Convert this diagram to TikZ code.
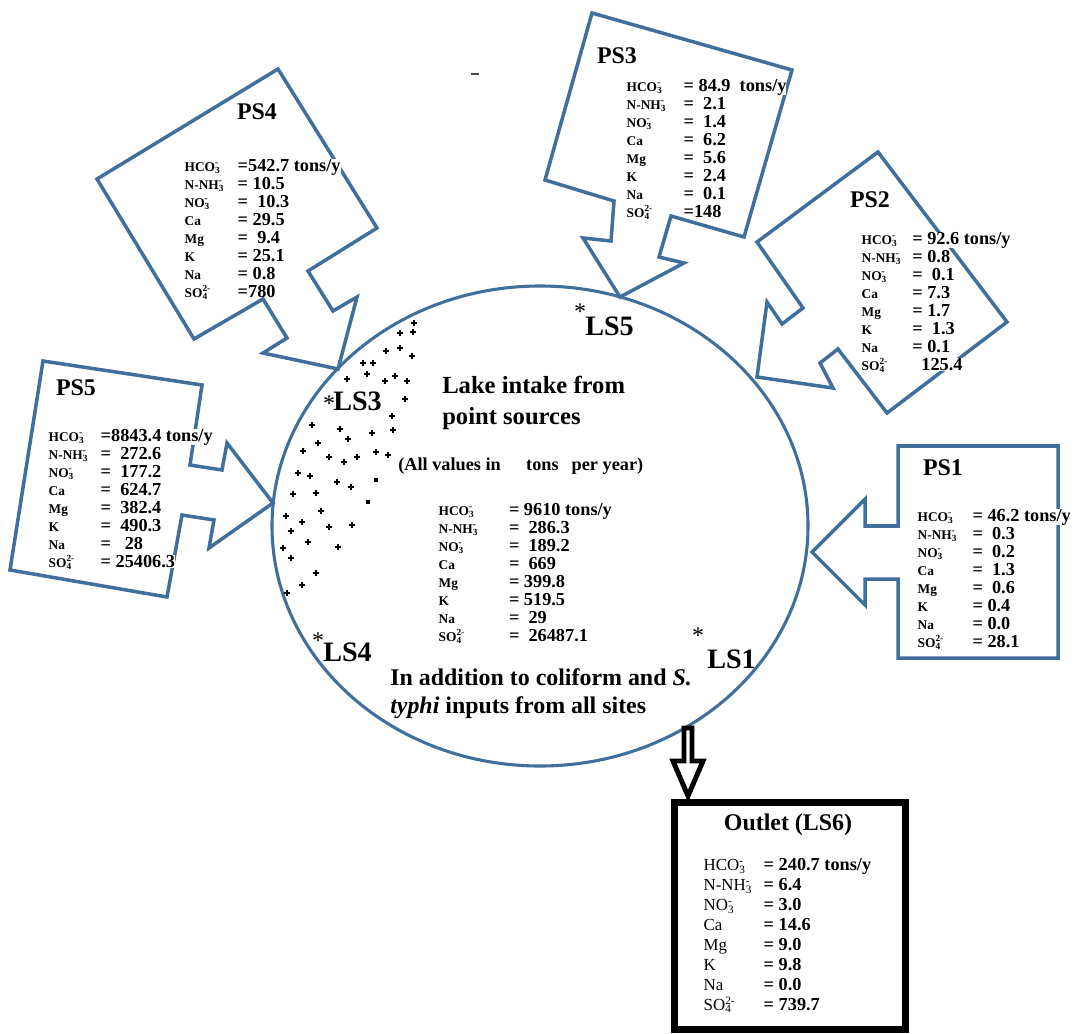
\documentclass[tikz,border=0pt]{standalone}
\usepackage{fontspec}
\setmainfont{Liberation Serif}
\usepackage{array}

\definecolor{lakeblue}{RGB}{65,111,155}

\newcommand{\ion}[2]{\rlap{\textsuperscript{#2}}\textsubscript{#1}}
\newcommand{\lblfont}{\fontsize{9.5}{9.5}\selectfont}
\newcommand{\val}[1]{{\setlength{\fboxsep}{0pt}\colorbox{white}{#1}}}
\newcommand{\loadrows}[9]{%
  \begin{tabular}{@{}p{#1}@{}l@{}}
    {\lblfont HCO\ion{3}{-}}  & \val{#2}\\
    {\lblfont N-NH\ion{3}{-}} & \val{#3}\\
    {\lblfont NO\ion{3}{-}}   & \val{#4}\\
    {\lblfont Ca}             & \val{#5}\\
    {\lblfont Mg}             & \val{#6}\\
    {\lblfont K}              & \val{#7}\\
    {\lblfont Na}             & \val{#8}\\
    {\lblfont SO\ion{4}{2-}}  & \val{#9}
  \end{tabular}}

\begin{document}
\begin{tikzpicture}[x=0.025cm, y=-0.025cm,
  callout/.style={draw=lakeblue, line width=2.5pt, line join=miter},
  loads/.style={inner sep=1pt, anchor=north west,
    font=\bfseries\fontsize{13}{12.8}\selectfont},
  pstitle/.style={font=\bfseries\fontsize{17}{17}\selectfont},
  site/.style={anchor=base west, inner sep=0pt, font=\bfseries\fontsize{20}{20}\selectfont},
  sitestar/.style={inner sep=0pt, font=\fontsize{17}{17}\selectfont},
  plusmark/.style={line width=0.8pt}]
\useasboundingbox (0,0) rectangle (1092,1033);

% the lake
\draw[lakeblue, line width=2.2pt] (540,526) ellipse [x radius=268, y radius=240];

% point sources, each a box with its arrow into the lake
\draw[callout] (278,69) -- (377,228) -- (308,271) -- (333,311) -- (357,297) -- (338,369)
  -- (263,353) -- (287,338) -- (263,299) -- (194,339) -- (97,179) -- cycle; % PS4
\draw[callout] (592,13) -- (792,70) -- (744,237) -- (671,216) -- (659,257) -- (684,263)
  -- (620,297) -- (583,238) -- (611,241) -- (614,201) -- (545,180) -- cycle; % PS3
\draw[callout] (878,152) -- (1007,322) -- (887,413) -- (838,349) -- (820,363) -- (833,388)
  -- (757,377) -- (767,302) -- (782,324) -- (803,308) -- (757,242) -- cycle; % PS2
\draw[callout] (43,361) -- (202,385) -- (190,465) -- (222,470) -- (227,443) -- (273,503)
  -- (209,548) -- (214,520) -- (182,515) -- (167,597) -- (10,570) -- cycle; % PS5
\draw[callout] (898,446) -- (1058,446) -- (1058,658) -- (898,658) -- (898,579) -- (865,579)
  -- (865,605) -- (812,552) -- (865,499) -- (865,526) -- (898,526) -- cycle; % PS1

% outlet
\draw[line width=3.5pt, line join=miter] (684,728) -- (692,728) -- (692,761) -- (703,761)
  -- (688,796) -- (673,761) -- (684,761) -- cycle;
\draw[line width=5pt] (674.5,802.5) rectangle (905.5,1029.5);

% shading in the lake
\foreach \px/\py in {414/323, 400/333, 413/332, 386/351, 400/348, 412/356, 363/363,
  373/363, 347/379, 367/374, 385/381, 395/376, 407/381, 405/399, 392/416, 312/425,
  340/429, 348/439, 372/433, 393/430, 318/443, 303/451, 329/457, 344/462, 357/457,
  376/452, 388/455, 298/473, 310/476, 337/482, 351/487, 293/494, 316/493, 321/511,
  286/516, 302/522, 329/527, 352/525, 291/531, 308/542, 338/547, 283/548, 291/558,
  316/573, 302/585, 287/593}
  \draw[plusmark] (\px-3,\py) -- (\px+3,\py) (\px,\py-3) -- (\px,\py+3);
\fill (374,478) rectangle (378,482);
\fill (366,500) rectangle (370,504);
\draw[line width=1.5pt, black!70] (471,74) -- (479,74);

% titles
\node[pstitle] (ps4) at (257,112) {PS4};
\node[pstitle] (ps3) at (617,56) {PS3};
\node[pstitle] (ps2) at (870,200) {PS2};
\node[pstitle] (ps5) at (76,388) {PS5};
\node[pstitle] (ps1) at (943,468) {PS1};
\node[pstitle] (outlet) at (788,825) {Outlet (LS6)};

% loads
\node[loads] (ps4loads) at (183,157) {\loadrows{37.7pt}{=542.7 tons/y}{= 10.5}{=\ \ 10.3}{= 29.5}{=\ \ 9.4}{= 25.1}{= 0.8}{=780}};
\node[loads] (ps3loads) at (625,77) {\loadrows{40.5pt}{= 84.9\ \ tons/y}{=\ \ 2.1}{=\ \ 1.4}{=\ \ 6.2}{=\ \ 5.6}{=\ \ 2.4}{=\ \ 0.1}{=148}};
\node[loads] (ps2loads) at (860,230) {\loadrows{36pt}{= 92.6 tons/y}{= 0.8}{=\ \ 0.1}{=\ 7.3}{=\ 1.7}{=\ \ 1.3}{= 0.1}{\ \ 125.4}};
\node[loads] (ps5loads) at (47,427) {\loadrows{37pt}{=8843.4 tons/y}{= \ 272.6}{=\ \ 177.2}{=\ \ 624.7}{=\ \ 382.4}{=\ \ 490.3}{=\ \ \ 28}{= 25406.3}};
\node[loads] (ps1loads) at (916,507) {\loadrows{39pt}{= 46.2\ tons/y}{=\ \ 0.3}{=\ \ 0.2}{=\ \ 1.3}{=\ \ 0.6}{= 0.4}{= 0.0}{=\ 28.1}};
\node[loads] (lakeloads) at (437,501) {\loadrows{50pt}{= 9610\ tons/y}{= \ 286.3}{=\ \ 189.2}{=\ \ 669}{= 399.8}{=\ 519.5}{=\ \ 29}{=\ \ 26487.1}};
\node[loads, font=\bfseries\fontsize{13}{14.2}\selectfont] (outletloads) at (702,855)
  {\renewcommand{\lblfont}{\mdseries\fontsize{12}{12}\selectfont}%
   \loadrows{42.7pt}{= 240.7 tons/y}{= 6.4}{=\ 3.0}{= 14.6}{=\ 9.0}{=\ 9.8}{=\ 0.0}{=\ 739.7}};

% lake text
\node[anchor=north west, align=left, inner sep=0pt,
  font=\bfseries\fontsize{17.5}{22}\selectfont] (intake) at (442,376)
  {Lake intake from\\point sources};
\node[anchor=west, inner sep=0pt, font=\bfseries\fontsize{13}{13}\selectfont] (units) at (398,466)
  {(All values in\hspace{18pt}tons\hspace{6pt} per year)};
\node[anchor=north west, align=left, inner sep=0pt,
  font=\bfseries\fontsize{17}{20}\selectfont] (coliform) at (390,668)
  {In addition to coliform and \textit{S.}\\\textit{typhi} inputs from all sites};

% lake sites
\node[site] (ls5) at (585,335) {LS5};
\node[site] (ls3) at (333,410) {LS3};
\node[site] (ls4) at (323,661) {LS4};
\node[site] (ls1) at (707,668) {LS1};
\node[sitestar] (ls5star) at (580,312) {*};
\node[sitestar] (ls3star) at (329,404) {*};
\node[sitestar] (ls4star) at (318,641) {*};
\node[sitestar] (ls1star) at (698,636) {*};
\end{tikzpicture}
\end{document}
